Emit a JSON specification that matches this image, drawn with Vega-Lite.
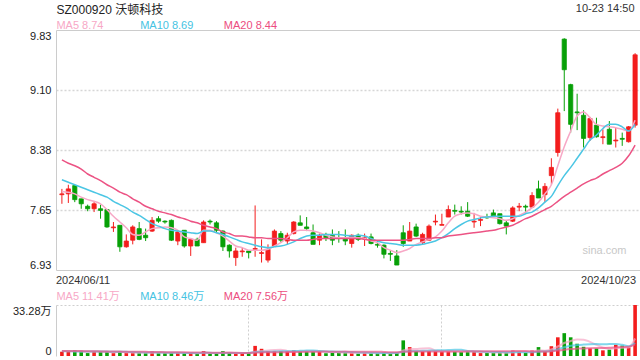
{
"$schema": "https://vega.github.io/schema/vega-lite/v6.json",
"autosize": {"type": "pad"},
"padding": {"left": 12, "top": 2, "right": 0, "bottom": 0},
"background": "white",
"bounds": "flush",
"spacing": 35,
"config": {
  "view": {"stroke": null},
  "font": "Liberation Sans, Noto Sans CJK SC, sans-serif",
  "axis": {"ticks": false, "tickSize": 0, "domainColor": "#cccccc", "labelColor": "#222222", "labelFontSize": 11, "grid": false, "titleFontWeight": "normal", "labelFont": "Liberation Sans, Noto Sans CJK SC, sans-serif", "titleFont": "Liberation Sans, Noto Sans CJK SC, sans-serif"}
},
"data": {"values": [
{"d":"2024/06/11","o":7.84,"c":7.85,"h":7.91,"l":7.73,"m5":7.88,"m10":8.02,"m20":8.26,"v":2.8,"vm5":3.2,"vm10":3.1,"vm20":3.3},
{"d":"2024/06/12","o":7.85,"c":7.91,"h":7.96,"l":7.74,"m5":7.87,"m10":7.99,"m20":8.22,"v":2.8,"vm5":3.1,"vm10":3.1,"vm20":3.3},
{"d":"2024/06/13","o":7.95,"c":7.78,"h":7.95,"l":7.75,"m5":7.85,"m10":7.96,"m20":8.19,"v":3.8,"vm5":3.1,"vm10":3.0,"vm20":3.2},
{"d":"2024/06/14","o":7.79,"c":7.73,"h":7.79,"l":7.67,"m5":7.81,"m10":7.93,"m20":8.15,"v":3.4,"vm5":3.0,"vm10":3.0,"vm20":3.2},
{"d":"2024/06/17","o":7.70,"c":7.67,"h":7.72,"l":7.64,"m5":7.78,"m10":7.90,"m20":8.09,"v":1.9,"vm5":2.94,"vm10":3.0,"vm20":3.1},
{"d":"2024/06/18","o":7.67,"c":7.73,"h":7.75,"l":7.63,"m5":7.76,"m10":7.87,"m20":8.05,"v":2.8,"vm5":2.94,"vm10":2.9,"vm20":3.1},
{"d":"2024/06/19","o":7.67,"c":7.65,"h":7.72,"l":7.55,"m5":7.73,"m10":7.84,"m20":8.01,"v":2.8,"vm5":2.94,"vm10":2.9,"vm20":3.0},
{"d":"2024/06/20","o":7.66,"c":7.45,"h":7.66,"l":7.44,"m5":7.66,"m10":7.81,"m20":7.96,"v":2.8,"vm5":2.74,"vm10":2.9,"vm20":3.0},
{"d":"2024/06/21","o":7.44,"c":7.45,"h":7.51,"l":7.39,"m5":7.58,"m10":7.76,"m20":7.92,"v":1.9,"vm5":2.44,"vm10":2.8,"vm20":2.9},
{"d":"2024/06/24","o":7.47,"c":7.21,"h":7.47,"l":7.15,"m5":7.51,"m10":7.72,"m20":7.87,"v":3.0,"vm5":2.66,"vm10":2.80,"vm20":2.9},
{"d":"2024/06/25","o":7.21,"c":7.28,"h":7.36,"l":7.20,"m5":7.44,"m10":7.68,"m20":7.84,"v":1.9,"vm5":2.48,"vm10":2.71,"vm20":2.8},
{"d":"2024/06/26","o":7.29,"c":7.45,"h":7.47,"l":7.24,"m5":7.36,"m10":7.63,"m20":7.79,"v":1.9,"vm5":2.30,"vm10":2.62,"vm20":2.8},
{"d":"2024/06/27","o":7.43,"c":7.30,"h":7.51,"l":7.29,"m5":7.35,"m10":7.59,"m20":7.75,"v":1.9,"vm5":2.12,"vm10":2.43,"vm20":2.7},
{"d":"2024/06/28","o":7.35,"c":7.32,"h":7.43,"l":7.28,"m5":7.39,"m10":7.54,"m20":7.70,"v":1.9,"vm5":2.12,"vm10":2.28,"vm20":2.7},
{"d":"2024/07/01","o":7.40,"c":7.53,"h":7.57,"l":7.39,"m5":7.43,"m10":7.49,"m20":7.67,"v":3.0,"vm5":2.12,"vm10":2.39,"vm20":2.6},
{"d":"2024/07/02","o":7.55,"c":7.52,"h":7.58,"l":7.50,"m5":7.44,"m10":7.46,"m20":7.64,"v":1.9,"vm5":2.12,"vm10":2.30,"vm20":2.6},
{"d":"2024/07/03","o":7.52,"c":7.51,"h":7.53,"l":7.49,"m5":7.45,"m10":7.43,"m20":7.62,"v":1.9,"vm5":2.12,"vm10":2.21,"vm20":2.5},
{"d":"2024/07/04","o":7.53,"c":7.29,"h":7.54,"l":7.28,"m5":7.44,"m10":7.41,"m20":7.60,"v":1.9,"vm5":2.12,"vm10":2.12,"vm20":2.5},
{"d":"2024/07/05","o":7.28,"c":7.39,"h":7.41,"l":7.23,"m5":7.41,"m10":7.40,"m20":7.57,"v":1.9,"vm5":2.12,"vm10":2.12,"vm20":2.45},
{"d":"2024/07/08","o":7.41,"c":7.22,"h":7.41,"l":7.20,"m5":7.33,"m10":7.39,"m20":7.55,"v":1.9,"vm5":1.90,"vm10":2.01,"vm20":2.41},
{"d":"2024/07/09","o":7.22,"c":7.30,"h":7.30,"l":7.10,"m5":7.31,"m10":7.38,"m20":7.52,"v":1.9,"vm5":1.90,"vm10":2.01,"vm20":2.36},
{"d":"2024/07/10","o":7.30,"c":7.22,"h":7.32,"l":7.22,"m5":7.29,"m10":7.37,"m20":7.50,"v":1.3,"vm5":1.78,"vm10":1.95,"vm20":2.29},
{"d":"2024/07/11","o":7.26,"c":7.51,"h":7.53,"l":7.26,"m5":7.41,"m10":7.40,"m20":7.47,"v":3.2,"vm5":2.04,"vm10":2.08,"vm20":2.26},
{"d":"2024/07/12","o":7.52,"c":7.51,"h":7.54,"l":7.48,"m5":7.41,"m10":7.40,"m20":7.45,"v":1.5,"vm5":1.96,"vm10":2.04,"vm20":2.16},
{"d":"2024/07/15","o":7.50,"c":7.41,"h":7.52,"l":7.38,"m5":7.38,"m10":7.38,"m20":7.43,"v":1.5,"vm5":1.88,"vm10":1.89,"vm20":2.14},
{"d":"2024/07/16","o":7.40,"c":7.21,"h":7.41,"l":7.16,"m5":7.34,"m10":7.36,"m20":7.39,"v":3.2,"vm5":2.14,"vm10":2.02,"vm20":2.16},
{"d":"2024/07/17","o":7.23,"c":7.16,"h":7.24,"l":7.08,"m5":7.28,"m10":7.33,"m20":7.37,"v":1.9,"vm5":2.26,"vm10":2.02,"vm20":2.12},
{"d":"2024/07/18","o":7.08,"c":7.16,"h":7.20,"l":6.98,"m5":7.22,"m10":7.30,"m20":7.34,"v":1.5,"vm5":1.92,"vm10":1.98,"vm20":2.05},
{"d":"2024/07/19","o":7.15,"c":7.16,"h":7.20,"l":7.09,"m5":7.20,"m10":7.27,"m20":7.34,"v":1.5,"vm5":1.92,"vm10":1.94,"vm20":2.03},
{"d":"2024/07/22","o":7.16,"c":7.14,"h":7.17,"l":7.07,"m5":7.17,"m10":7.25,"m20":7.33,"v":2.1,"vm5":2.04,"vm10":1.96,"vm20":1.99},
{"d":"2024/07/23","o":7.18,"c":7.19,"h":7.71,"l":7.09,"m5":7.17,"m10":7.23,"m20":7.32,"v":6.6,"vm5":2.72,"vm10":2.43,"vm20":2.22},
{"d":"2024/07/24","o":7.13,"c":7.14,"h":7.30,"l":7.02,"m5":7.17,"m10":7.21,"m20":7.32,"v":4.7,"vm5":3.28,"vm10":2.77,"vm20":2.36},
{"d":"2024/07/25","o":7.05,"c":7.18,"h":7.24,"l":7.02,"m5":7.18,"m10":7.20,"m20":7.31,"v":3.0,"vm5":3.58,"vm10":2.75,"vm20":2.42},
{"d":"2024/07/26","o":7.22,"c":7.40,"h":7.42,"l":7.22,"m5":7.22,"m10":7.21,"m20":7.31,"v":3.0,"vm5":3.88,"vm10":2.90,"vm20":2.47},
{"d":"2024/07/29","o":7.37,"c":7.29,"h":7.40,"l":7.26,"m5":7.26,"m10":7.22,"m20":7.31,"v":3.0,"vm5":4.06,"vm10":3.05,"vm20":2.47},
{"d":"2024/07/30","o":7.28,"c":7.35,"h":7.38,"l":7.24,"m5":7.32,"m10":7.24,"m20":7.30,"v":3.0,"vm5":3.34,"vm10":3.03,"vm20":2.53},
{"d":"2024/07/31","o":7.37,"c":7.51,"h":7.52,"l":7.36,"m5":7.39,"m10":7.27,"m20":7.29,"v":3.8,"vm5":3.16,"vm10":3.22,"vm20":2.62},
{"d":"2024/08/01","o":7.50,"c":7.47,"h":7.59,"l":7.47,"m5":7.41,"m10":7.31,"m20":7.29,"v":3.0,"vm5":3.16,"vm10":3.37,"vm20":2.68},
{"d":"2024/08/02","o":7.45,"c":7.43,"h":7.57,"l":7.40,"m5":7.41,"m10":7.34,"m20":7.29,"v":3.0,"vm5":3.16,"vm10":3.52,"vm20":2.73},
{"d":"2024/08/05","o":7.38,"c":7.24,"h":7.48,"l":7.24,"m5":7.40,"m10":7.35,"m20":7.30,"v":3.0,"vm5":3.16,"vm10":3.61,"vm20":2.79},
{"d":"2024/08/06","o":7.29,"c":7.35,"h":7.37,"l":7.23,"m5":7.38,"m10":7.35,"m20":7.31,"v":3.0,"vm5":3.16,"vm10":3.25,"vm20":2.84},
{"d":"2024/08/07","o":7.36,"c":7.32,"h":7.38,"l":7.28,"m5":7.35,"m10":7.36,"m20":7.31,"v":1.8,"vm5":2.76,"vm10":2.96,"vm20":2.87},
{"d":"2024/08/08","o":7.35,"c":7.29,"h":7.42,"l":7.23,"m5":7.33,"m10":7.36,"m20":7.31,"v":2.0,"vm5":2.56,"vm10":2.86,"vm20":2.81},
{"d":"2024/08/09","o":7.32,"c":7.31,"h":7.40,"l":7.26,"m5":7.32,"m10":7.36,"m20":7.31,"v":2.0,"vm5":2.36,"vm10":2.76,"vm20":2.83},
{"d":"2024/08/12","o":7.32,"c":7.28,"h":7.42,"l":7.23,"m5":7.32,"m10":7.35,"m20":7.31,"v":2.2,"vm5":2.20,"vm10":2.68,"vm20":2.87},
{"d":"2024/08/13","o":7.25,"c":7.35,"h":7.36,"l":7.20,"m5":7.32,"m10":7.34,"m20":7.31,"v":2.0,"vm5":2.00,"vm10":2.58,"vm20":2.81},
{"d":"2024/08/14","o":7.35,"c":7.30,"h":7.37,"l":7.28,"m5":7.32,"m10":7.35,"m20":7.31,"v":1.6,"vm5":1.96,"vm10":2.36,"vm20":2.79},
{"d":"2024/08/15","o":7.31,"c":7.32,"h":7.37,"l":7.22,"m5":7.31,"m10":7.34,"m20":7.30,"v":2.0,"vm5":1.96,"vm10":2.26,"vm20":2.82},
{"d":"2024/08/16","o":7.33,"c":7.25,"h":7.37,"l":7.24,"m5":7.28,"m10":7.31,"m20":7.29,"v":1.8,"vm5":1.92,"vm10":2.14,"vm20":2.83},
{"d":"2024/08/19","o":7.24,"c":7.23,"h":7.28,"l":7.20,"m5":7.26,"m10":7.28,"m20":7.29,"v":1.8,"vm5":1.84,"vm10":2.02,"vm20":2.82},
{"d":"2024/08/20","o":7.23,"c":7.12,"h":7.24,"l":7.07,"m5":7.20,"m10":7.26,"m20":7.29,"v":2.2,"vm5":1.88,"vm10":1.94,"vm20":2.60},
{"d":"2024/08/21","o":7.13,"c":7.12,"h":7.17,"l":7.04,"m5":7.17,"m10":7.25,"m20":7.29,"v":1.5,"vm5":1.86,"vm10":1.91,"vm20":2.44},
{"d":"2024/08/22","o":7.10,"c":6.99,"h":7.17,"l":6.99,"m5":7.14,"m10":7.24,"m20":7.29,"v":2.4,"vm5":1.94,"vm10":1.95,"vm20":2.41},
{"d":"2024/08/23","o":7.38,"c":7.25,"h":7.47,"l":7.21,"m5":7.16,"m10":7.23,"m20":7.29,"v":10.2,"vm5":3.62,"vm10":2.77,"vm20":2.77},
{"d":"2024/08/26","o":7.28,"c":7.40,"h":7.51,"l":7.28,"m5":7.19,"m10":7.23,"m20":7.30,"v":5.8,"vm5":4.42,"vm10":3.13,"vm20":2.91},
{"d":"2024/08/27","o":7.45,"c":7.34,"h":7.49,"l":7.33,"m5":7.24,"m10":7.23,"m20":7.31,"v":3.2,"vm5":4.62,"vm10":3.25,"vm20":2.92},
{"d":"2024/08/28","o":7.26,"c":7.36,"h":7.38,"l":7.24,"m5":7.27,"m10":7.24,"m20":7.31,"v":3.0,"vm5":4.92,"vm10":3.39,"vm20":2.88},
{"d":"2024/08/29","o":7.29,"c":7.46,"h":7.48,"l":7.29,"m5":7.30,"m10":7.26,"m20":7.31,"v":3.2,"vm5":5.08,"vm10":3.51,"vm20":2.89},
{"d":"2024/08/30","o":7.51,"c":7.52,"h":7.60,"l":7.47,"m5":7.33,"m10":7.28,"m20":7.32,"v":3.0,"vm5":3.64,"vm10":3.63,"vm20":2.89},
{"d":"2024/09/02","o":7.47,"c":7.48,"h":7.61,"l":7.47,"m5":7.40,"m10":7.32,"m20":7.32,"v":3.0,"vm5":3.08,"vm10":3.75,"vm20":2.89},
{"d":"2024/09/03","o":7.57,"c":7.66,"h":7.71,"l":7.57,"m5":7.50,"m10":7.37,"m20":7.34,"v":3.2,"vm5":3.08,"vm10":3.85,"vm20":2.90},
{"d":"2024/09/04","o":7.65,"c":7.64,"h":7.72,"l":7.60,"m5":7.58,"m10":7.43,"m20":7.35,"v":3.0,"vm5":3.08,"vm10":4.00,"vm20":2.96},
{"d":"2024/09/05","o":7.64,"c":7.63,"h":7.70,"l":7.60,"m5":7.61,"m10":7.48,"m20":7.36,"v":2.6,"vm5":2.96,"vm10":4.02,"vm20":2.99},
{"d":"2024/09/06","o":7.64,"c":7.58,"h":7.75,"l":7.57,"m5":7.62,"m10":7.52,"m20":7.37,"v":3.0,"vm5":2.96,"vm10":3.30,"vm20":3.04},
{"d":"2024/09/09","o":7.51,"c":7.52,"h":7.62,"l":7.44,"m5":7.61,"m10":7.54,"m20":7.38,"v":2.8,"vm5":2.92,"vm10":3.00,"vm20":3.07},
{"d":"2024/09/10","o":7.53,"c":7.54,"h":7.57,"l":7.46,"m5":7.58,"m10":7.56,"m20":7.39,"v":1.9,"vm5":2.66,"vm10":2.87,"vm20":3.06},
{"d":"2024/09/11","o":7.57,"c":7.56,"h":7.61,"l":7.55,"m5":7.57,"m10":7.57,"m20":7.40,"v":2.0,"vm5":2.46,"vm10":2.77,"vm20":3.08},
{"d":"2024/09/12","o":7.62,"c":7.58,"h":7.66,"l":7.57,"m5":7.56,"m10":7.58,"m20":7.41,"v":2.0,"vm5":2.34,"vm10":2.65,"vm20":3.08},
{"d":"2024/09/13","o":7.61,"c":7.49,"h":7.61,"l":7.48,"m5":7.55,"m10":7.58,"m20":7.43,"v":2.2,"vm5":2.18,"vm10":2.57,"vm20":3.10},
{"d":"2024/09/18","o":7.50,"c":7.46,"h":7.53,"l":7.36,"m5":7.53,"m10":7.58,"m20":7.45,"v":2.2,"vm5":2.06,"vm10":2.49,"vm20":3.12},
{"d":"2024/09/19","o":7.52,"c":7.68,"h":7.70,"l":7.51,"m5":7.55,"m10":7.58,"m20":7.47,"v":3.5,"vm5":2.38,"vm10":2.52,"vm20":3.19},
{"d":"2024/09/20","o":7.69,"c":7.70,"h":7.74,"l":7.64,"m5":7.59,"m10":7.58,"m20":7.51,"v":2.8,"vm5":2.54,"vm10":2.50,"vm20":3.25},
{"d":"2024/09/23","o":7.70,"c":7.69,"h":7.72,"l":7.62,"m5":7.63,"m10":7.61,"m20":7.55,"v":2.2,"vm5":2.58,"vm10":2.46,"vm20":3.24},
{"d":"2024/09/24","o":7.69,"c":7.83,"h":7.87,"l":7.68,"m5":7.68,"m10":7.63,"m20":7.58,"v":3.6,"vm5":2.86,"vm10":2.52,"vm20":2.91},
{"d":"2024/09/25","o":7.91,"c":7.80,"h":8.01,"l":7.80,"m5":7.75,"m10":7.68,"m20":7.62,"v":5.8,"vm5":3.58,"vm10":2.82,"vm20":2.91},
{"d":"2024/09/26","o":7.84,"c":7.94,"h":7.98,"l":7.75,"m5":7.85,"m10":7.75,"m20":7.66,"v":3.0,"vm5":3.48,"vm10":2.93,"vm20":2.90},
{"d":"2024/09/27","o":8.07,"c":8.17,"h":8.28,"l":7.96,"m5":7.96,"m10":7.82,"m20":7.70,"v":6.4,"vm5":4.20,"vm10":3.37,"vm20":3.07},
{"d":"2024/09/30","o":8.35,"c":8.83,"h":8.88,"l":8.30,"m5":8.19,"m10":7.95,"m20":7.76,"v":12.2,"vm5":6.20,"vm10":4.39,"vm20":3.52},
{"d":"2024/10/08","o":9.72,"c":9.35,"h":9.73,"l":8.85,"m5":8.42,"m10":8.07,"m20":7.82,"v":14.9,"vm5":8.46,"vm10":5.66,"vm20":4.12},
{"d":"2024/10/09","o":9.17,"c":8.69,"h":9.18,"l":8.59,"m5":8.61,"m10":8.17,"m20":7.87,"v":12.2,"vm5":9.74,"vm10":6.66,"vm20":4.58},
{"d":"2024/10/10","o":8.84,"c":8.83,"h":9.06,"l":8.62,"m5":8.79,"m10":8.28,"m20":7.92,"v":8.0,"vm5":10.74,"vm10":7.11,"vm20":4.82},
{"d":"2024/10/11","o":8.80,"c":8.52,"h":8.86,"l":8.41,"m5":8.84,"m10":8.39,"m20":7.97,"v":6.0,"vm5":10.66,"vm10":7.43,"vm20":4.97},
{"d":"2024/10/14","o":8.53,"c":8.76,"h":8.78,"l":8.49,"m5":8.77,"m10":8.50,"m20":8.01,"v":5.0,"vm5":9.22,"vm10":7.71,"vm20":5.09},
{"d":"2024/10/15","o":8.68,"c":8.54,"h":8.77,"l":8.53,"m5":8.69,"m10":8.56,"m20":8.04,"v":4.9,"vm5":7.22,"vm10":7.84,"vm20":5.18},
{"d":"2024/10/16","o":8.53,"c":8.54,"h":8.63,"l":8.45,"m5":8.67,"m10":8.64,"m20":8.09,"v":3.7,"vm5":5.52,"vm10":7.63,"vm20":5.23},
{"d":"2024/10/17","o":8.63,"c":8.45,"h":8.73,"l":8.45,"m5":8.66,"m10":8.69,"m20":8.13,"v":4.2,"vm5":4.76,"vm10":7.75,"vm20":5.34},
{"d":"2024/10/18","o":8.49,"c":8.50,"h":8.65,"l":8.41,"m5":8.65,"m10":8.69,"m20":8.17,"v":7.3,"vm5":5.02,"vm10":7.84,"vm20":5.61},
{"d":"2024/10/21","o":8.52,"c":8.51,"h":8.59,"l":8.43,"m5":8.63,"m10":8.66,"m20":8.22,"v":6.8,"vm5":5.38,"vm10":7.30,"vm20":5.85},
{"d":"2024/10/22","o":8.48,"c":8.66,"h":8.67,"l":8.47,"m5":8.61,"m10":8.61,"m20":8.31,"v":5.5,"vm5":5.50,"vm10":6.36,"vm20":6.01},
{"d":"2024/10/23","o":8.68,"c":9.53,"h":9.55,"l":8.65,"m5":8.74,"m10":8.69,"m20":8.44,"v":33.28,"vm5":11.41,"vm10":8.46,"vm20":7.56}
]},
"vconcat": [
{
  "width": 585, "height": 240,
  "resolve": {"axis": {"x": "independent", "y": "independent"}},
  "layer": [
    {"mark": {"type": "rule", "strokeWidth": 1},
     "encoding": {
       "x": {"field": "d", "type": "ordinal", "scale": {"type": "band", "paddingInner": 0.348, "paddingOuter": 0.59},
         "axis": {"orient": "bottom", "values": ["2024/06/11", "2024/10/23"], "labelAngle": 0, "labelPadding": 4, "labelColor": "#333333", "labelBaseline": "top",
           "labelAlign": {"condition": {"test": "datum.value === '2024/06/11'", "value": "left"}, "value": "right"},
           "labelOffset": {"condition": {"test": "datum.value === '2024/06/11'", "value": -6}, "value": 1},
           "bandPosition": 0.5, "domain": true,
           "title": "sina.com", "titleX": 548, "titleY": -19.5, "titleAlign": "center", "titleAnchor": null, "titleBaseline": "middle", "titleColor": "#c8c8c8", "titleFontSize": 11}},
       "y": {"field": "l", "type": "quantitative", "scale": {"domain": [6.93, 9.83], "nice": false, "zero": false},
         "axis": {"orient": "left", "values": [6.93, 7.65, 8.38, 9.10, 9.83], "format": ".2f", "labelPadding": 5, "grid": false, "domain": true,
           "labelBaseline": {"condition": [{"test": "datum.value > 9.8", "value": "top"}, {"test": "datum.value < 7", "value": "bottom"}], "value": "middle"},
           "title": "10-23 14:50", "titleAngle": 0, "titleX": 578, "titleY": -21.4, "titleAlign": "right", "titleAnchor": null, "titleBaseline": "middle", "titleFontSize": 11, "titleColor": "#333333"}},
       "y2": {"field": "h"},
       "color": {"condition": {"test": "datum.c >= datum.o", "value": "#f31d1d"}, "value": "#07a007"}
     }},
    {"mark": {"type": "bar", "strokeWidth": 0.8},
     "encoding": {
       "x": {"field": "d", "type": "ordinal", "scale": {"type": "band", "paddingInner": 0.348, "paddingOuter": 0.59}, "axis": null},
       "y": {"field": "o", "type": "quantitative", "scale": {"domain": [6.93, 9.83], "nice": false, "zero": false}, "axis": null},
       "y2": {"field": "c"},
       "fill": {"condition": {"test": "datum.c >= datum.o", "value": "#f31d1d"}, "value": "#07a007"},
       "stroke": {"condition": {"test": "datum.c >= datum.o", "value": "#f31d1d"}, "value": "#07a007"}
     }},
    {"mark": {"type": "line", "interpolate": "monotone", "strokeWidth": 1.5, "color": "#f7a8c6"},
     "encoding": {
       "x": {"field": "d", "type": "ordinal", "scale": {"type": "band", "paddingInner": 0.348, "paddingOuter": 0.59},
         "axis": {"orient": "top", "values": ["2024/06/11", "2024/06/28", "2024/07/17"], "labelAngle": 0, "labelPadding": 0, "labelAlign": "left", "labelBaseline": "bottom", "labelOffset": -5.5,
           "labelExpr": "datum.value === '2024/06/11' ? 'MA5 8.74' : datum.value === '2024/06/28' ? 'MA10 8.69' : 'MA20 8.44'",
           "labelColor": {"condition": [{"test": "datum.value === '2024/06/11'", "value": "#f7a8c6"}, {"test": "datum.value === '2024/06/28'", "value": "#45c3e2"}], "value": "#ec4d80"},
           "bandPosition": 0.5, "domain": true,
           "title": "SZ000920 沃顿科技", "titleX": 0, "titleY": -20.8, "titleAlign": "left", "titleAnchor": null, "titleBaseline": "middle", "titleFontSize": 12, "titleColor": "#222222"}},
       "y": {"field": "m5", "type": "quantitative", "scale": {"domain": [6.93, 9.83], "nice": false, "zero": false}, "axis": null}
     }},
    {"mark": {"type": "line", "interpolate": "monotone", "strokeWidth": 1.5, "color": "#4bc6e4"},
     "encoding": {
       "x": {"field": "d", "type": "ordinal", "scale": {"type": "band", "paddingInner": 0.348, "paddingOuter": 0.59}, "axis": null},
       "y": {"field": "m10", "type": "quantitative", "scale": {"domain": [6.93, 9.83], "nice": false, "zero": false},
         "axis": {"orient": "left", "values": [7.65, 8.38, 9.10], "labels": false, "domain": false, "grid": true, "gridColor": "#d6d6d6", "gridDash": [2, 2], "gridWidth": 1.5, "title": null}}
     }},
    {"mark": {"type": "line", "interpolate": "monotone", "strokeWidth": 1.5, "color": "#ec5384"},
     "encoding": {
       "x": {"field": "d", "type": "ordinal", "scale": {"type": "band", "paddingInner": 0.348, "paddingOuter": 0.59}, "axis": null},
       "y": {"field": "m20", "type": "quantitative", "scale": {"domain": [6.93, 9.83], "nice": false, "zero": false}, "axis": null}
     }}
  ]
},
{
  "width": 585, "height": 51,
  "resolve": {"axis": {"x": "independent", "y": "independent"}},
  "layer": [
    {"mark": {"type": "bar"},
     "encoding": {
       "x": {"field": "d", "type": "ordinal", "scale": {"type": "band", "paddingInner": 0.44, "paddingOuter": 0.636},
         "axis": {"orient": "bottom", "values": ["2024/07/22", "2024/09/02"], "labels": false, "domain": false, "grid": true, "gridColor": "#cfcfcf", "gridDash": [2, 2], "gridWidth": 1, "bandPosition": 0.5, "title": null}},
       "y": {"field": "v", "type": "quantitative", "scale": {"domain": [0, 33.28], "nice": false},
         "axis": {"orient": "left", "values": [0, 33.28], "labelExpr": "datum.value == 0 ? '0' : '33.28万'", "labelPadding": 5, "grid": false, "domain": true, "title": null,
           "labelBaseline": {"condition": {"test": "datum.value > 30", "value": "top"}, "value": "bottom"}}},
       "fill": {"condition": {"test": "datum.c >= datum.o", "value": "#f31d1d"}, "value": "#07a007"}
     }},
    {"mark": {"type": "line", "interpolate": "monotone", "strokeWidth": 2, "opacity": 0.7, "color": "#f7a8c6"},
     "encoding": {
       "x": {"field": "d", "type": "ordinal", "scale": {"type": "band", "paddingInner": 0.44, "paddingOuter": 0.636},
         "axis": {"orient": "top", "values": ["2024/06/11", "2024/06/28", "2024/07/17"], "labelAngle": 0, "labelPadding": 4, "labelAlign": "left", "labelBaseline": "bottom", "labelOffset": -5.5,
           "labelExpr": "datum.value === '2024/06/11' ? 'MA5 11.41万' : datum.value === '2024/06/28' ? 'MA10 8.46万' : 'MA20 7.56万'",
           "labelColor": {"condition": [{"test": "datum.value === '2024/06/11'", "value": "#f7a8c6"}, {"test": "datum.value === '2024/06/28'", "value": "#45c3e2"}], "value": "#ec4d80"},
           "bandPosition": 0.5, "domain": false, "title": null}},
       "y": {"field": "vm5", "type": "quantitative", "scale": {"domain": [0, 33.28], "nice": false},
         "axis": {"orient": "left", "values": [33.28], "labels": false, "domain": false, "grid": true, "gridColor": "#cfcfcf", "gridDash": [2, 2], "gridWidth": 1, "title": null}}
     }},
    {"mark": {"type": "line", "interpolate": "monotone", "strokeWidth": 2, "opacity": 0.7, "color": "#4bc6e4"},
     "encoding": {
       "x": {"field": "d", "type": "ordinal", "scale": {"type": "band", "paddingInner": 0.44, "paddingOuter": 0.636}, "axis": null},
       "y": {"field": "vm10", "type": "quantitative", "scale": {"domain": [0, 33.28], "nice": false}, "axis": null}
     }},
    {"mark": {"type": "line", "interpolate": "monotone", "strokeWidth": 2, "opacity": 0.7, "color": "#ec5384"},
     "encoding": {
       "x": {"field": "d", "type": "ordinal", "scale": {"type": "band", "paddingInner": 0.44, "paddingOuter": 0.636}, "axis": null},
       "y": {"field": "vm20", "type": "quantitative", "scale": {"domain": [0, 33.28], "nice": false}, "axis": null}
     }}
  ]
}
]
}
